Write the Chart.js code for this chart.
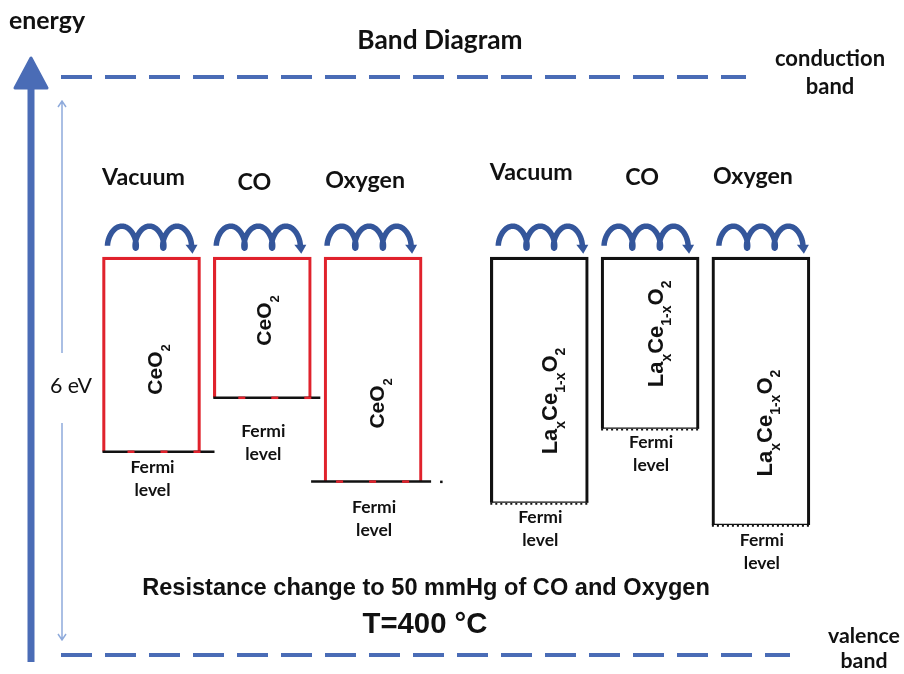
<!DOCTYPE html>
<html><head><meta charset="utf-8">
<script src="https://cdn.jsdelivr.net/npm/chart.js@4.4.1/dist/chart.umd.min.js"></script>
<style>html,body{margin:0;padding:0;background:#fff;} canvas{display:block;}</style>
</head><body>
<canvas id="c" width="904" height="674"></canvas>
<script>
// ---------------- data ----------------
const atmospheres = ['Vacuum', 'CO', 'Oxygen', 'Vacuum', 'CO', 'Oxygen'];
const ceo2Slots = [0, 1, 2];          // column slots (CeO2 group)
const laSlots = [3.5, 4.5, 5.5];      // column slots (LaxCe1-xO2 group)
const ceo2BandTop = [4.13, 4.13, 4.13];   // eV above valence band
const ceo2Fermi = [2.11, 2.67, 1.80];     // eV
const laBandTop = [4.13, 4.13, 4.13];
const laFermi = [1.58, 2.35, 1.35];
const conductionBand = 6;   // eV
const valenceBand = 0;      // eV
const gapLabel = '6 eV';
const ceo2Label = [['CeO', 0], ['2', 1]];
const laLabel = [['La', 0], ['x', 1], ['Ce', 0], ['1-x', 1], ['O', 0], ['2', 1]];
const titleText = 'Band Diagram';
const noteLine1 = 'Resistance change to 50 mmHg of CO and Oxygen';
const noteLine2 = 'T=400 \u00B0C';

// ---------------- styling / layout ----------------
const CAL = 'Lato, "Open Sans", sans-serif';
const ARIAL = '"Liberation Sans", Arial, sans-serif';
const BLUE = '#4a6cb6';
const COIL = '#34569b';
const RED = '#e0222c';
const colLabelY = [178, 183, 181, 173, 178, 177];
const colLabelDx = -8;
const fermiLabelDy = [16, 34, 26, 15, 14, 15];
const fermiExtL = [0, 0, 13, 0, 0, 0];
const fermiExtR = [14, 9, 9, 0, 0, 0];
const matLabelDx = [11, 8.5, 11, 18, 13, 11];
const matLabelDy = [15, -7, 34, 21, -9, 32];
const coilDx = [2, 0, 0, 5, 0, 4];

function fitSize(ctx, text, weight, family, width) {
  ctx.font = weight + ' 100px ' + family;
  return 100 * width / ctx.measureText(text).width;
}
function txt(ctx, s, x, y, font, align, base) {
  ctx.font = font; ctx.textAlign = align || 'center'; ctx.textBaseline = base || 'middle';
  ctx.fillStyle = '#111'; ctx.fillText(s, x, y);
}
function drawCoil(ctx, x0, yTop, w) {
  const r = 1, d = 1.3;
  const tc = Math.acos(r / d);
  const t0 = tc, t1 = 6 * Math.PI - tc;
  const fx = t => r * t - d * Math.sin(t), fy = t => r - d * Math.cos(t);
  const xa = fx(t0), xb = fx(t1), sx = w / (xb - xa), sy = 8.5;
  const px = t => x0 + (fx(t) - xa) * sx, py = t => yTop + ((r + d) - fy(t)) * sy;
  ctx.save();
  ctx.strokeStyle = COIL; ctx.fillStyle = COIL; ctx.lineWidth = 5.5; ctx.lineCap = 'butt'; ctx.lineJoin = 'round';
  ctx.beginPath();
  for (let k = 0; k <= 240; k++) {
    const t = t0 + (t1 - t0) * k / 240;
    if (k) ctx.lineTo(px(t), py(t)); else ctx.moveTo(px(t), py(t));
  }
  ctx.stroke();
  const ex = px(t1), ey = py(t1);
  ctx.beginPath(); ctx.moveTo(ex - 6, ey - 1); ctx.lineTo(ex + 6, ey - 1); ctx.lineTo(ex + 1, ey + 8); ctx.closePath(); ctx.fill();
  ctx.restore();
}
function drawFormula(ctx, segs, cx, cy, main, sub, subOff) {
  ctx.save();
  ctx.translate(cx, cy); ctx.rotate(-Math.PI / 2);
  let total = 0;
  segs.forEach(([s, isSub]) => { ctx.font = 'bold ' + (isSub ? sub : main) + 'px ' + ARIAL; total += ctx.measureText(s).width; });
  let u = -total / 2;
  ctx.fillStyle = '#111'; ctx.textAlign = 'left'; ctx.textBaseline = 'alphabetic';
  segs.forEach(([s, isSub]) => {
    ctx.font = 'bold ' + (isSub ? sub : main) + 'px ' + ARIAL;
    ctx.fillText(s, u, isSub ? subOff : 0);
    u += ctx.measureText(s).width;
  });
  ctx.restore();
}

const diagramPlugin = {
  id: 'diagram',
  beforeDraw(chart) {
    const ctx = chart.ctx; ctx.save(); ctx.fillStyle = '#fff'; ctx.fillRect(0, 0, chart.width, chart.height); ctx.restore();
  },
  afterDatasetsDraw(chart) {
    const ctx = chart.ctx, ys = chart.scales.y;
    const yC = ys.getPixelForValue(conductionBand), yV = ys.getPixelForValue(valenceBand);
    ctx.save();
    // band edges (dashed)
    ctx.strokeStyle = BLUE; ctx.lineWidth = 4; ctx.setLineDash([31, 13]);
    ctx.beginPath(); ctx.moveTo(61, yC); ctx.lineTo(746, yC); ctx.stroke();
    ctx.beginPath(); ctx.moveTo(61, yV); ctx.lineTo(790, yV); ctx.stroke();
    ctx.setLineDash([]);
    // energy axis arrow
    ctx.strokeStyle = BLUE; ctx.fillStyle = BLUE; ctx.lineWidth = 7;
    ctx.beginPath(); ctx.moveTo(31, yV + 7); ctx.lineTo(31, 84); ctx.stroke();
    ctx.lineWidth = 3; ctx.lineJoin = 'round';
    ctx.beginPath(); ctx.moveTo(31, 58); ctx.lineTo(15, 88); ctx.lineTo(47, 88); ctx.closePath(); ctx.fill(); ctx.stroke();
    // 6 eV thin arrow
    const gx = 62, gTop = yC + 24, gBot = yV - 15;
    ctx.strokeStyle = '#8eaadb'; ctx.lineWidth = 1.5; ctx.lineJoin = 'miter';
    ctx.beginPath(); ctx.moveTo(gx, gTop); ctx.lineTo(gx, 353); ctx.moveTo(gx, 423); ctx.lineTo(gx, gBot);
    ctx.moveTo(gx - 4, gTop + 6); ctx.lineTo(gx, gTop); ctx.lineTo(gx + 4, gTop + 6);
    ctx.moveTo(gx - 4, gBot - 6); ctx.lineTo(gx, gBot); ctx.lineTo(gx + 4, gBot - 6);
    ctx.stroke();
    ctx.restore();

    // per-box extras
    let idx = 0;
    [0, 1].forEach(di => {
      const meta = chart.getDatasetMeta(di);
      meta.data.forEach(el => {
        const p = el.getProps(['x', 'y', 'base', 'width'], true);
        const left = p.x - p.width / 2, right = p.x + p.width / 2;
        // Fermi level line
        ctx.save();
        const l0 = left - fermiExtL[idx], l1 = right + fermiExtR[idx];
        if (di === 0) {
          ctx.strokeStyle = '#111'; ctx.lineWidth = 2.5;
          ctx.beginPath(); ctx.moveTo(l0, p.base); ctx.lineTo(l1, p.base); ctx.stroke();
          ctx.strokeStyle = RED;
          for (let x = l0 + 25; x < right - 3; x += 33) {
            ctx.beginPath(); ctx.moveTo(x, p.base); ctx.lineTo(x + 7, p.base); ctx.stroke();
          }
          if (idx === 2) { ctx.fillStyle = '#111'; ctx.fillRect(l1 + 9, p.base - 1, 2.5, 2.5); }
        } else {
          ctx.strokeStyle = '#111'; ctx.lineWidth = 1.3;
          ctx.beginPath(); ctx.moveTo(l0, p.base - 0.6); ctx.lineTo(l1, p.base - 0.6); ctx.stroke();
          ctx.lineWidth = 1.8; ctx.setLineDash([2, 3]);
          ctx.beginPath(); ctx.moveTo(l0, p.base + 1); ctx.lineTo(l1, p.base + 1); ctx.stroke();
        }
        ctx.restore();
        // coil arrows
        drawCoil(ctx, left + 3 + coilDx[idx], p.y - 31, 84);
        // labels
        const colSize = fitSize(ctx, 'Oxygen', 'bold', CAL, 80);
        txt(ctx, atmospheres[idx], p.x + colLabelDx, colLabelY[idx], 'bold ' + colSize.toFixed(1) + 'px ' + CAL);
        const fSize = fitSize(ctx, 'Fermi', 'bold', CAL, 44);
        const ff = 'bold ' + fSize.toFixed(1) + 'px ' + CAL;
        const fy = p.base + fermiLabelDy[idx];
        txt(ctx, 'Fermi', p.x + 1, fy, ff);
        txt(ctx, 'level', p.x + 1, fy + 23, ff);
        const midY = (p.y + p.base) / 2 + matLabelDy[idx];
        if (di === 0) drawFormula(ctx, ceo2Label, p.x + matLabelDx[idx], midY, 21, 13, 8);
        else drawFormula(ctx, laLabel, p.x + matLabelDx[idx], midY, 22, 14, 8);
        idx++;
      });
    });

    // texts
    let s;
    s = fitSize(ctx, 'energy', 'bold', CAL, 76); txt(ctx, 'energy', 9, 29, 'bold ' + s.toFixed(1) + 'px ' + CAL, 'left', 'alphabetic');
    s = fitSize(ctx, titleText, 'bold', CAL, 165); txt(ctx, titleText, 440, 49, 'bold ' + s.toFixed(1) + 'px ' + CAL, 'center', 'alphabetic');
    s = fitSize(ctx, 'conduction', 'bold', CAL, 110);
    txt(ctx, 'conduction', 830, 66, 'bold ' + s.toFixed(1) + 'px ' + CAL, 'center', 'alphabetic');
    txt(ctx, 'band', 830, 94, 'bold ' + s.toFixed(1) + 'px ' + CAL, 'center', 'alphabetic');
    s = fitSize(ctx, 'valence', 'bold', CAL, 72);
    txt(ctx, 'valence', 864, 643, 'bold ' + s.toFixed(1) + 'px ' + CAL, 'center', 'alphabetic');
    txt(ctx, 'band', 864, 668, 'bold ' + s.toFixed(1) + 'px ' + CAL, 'center', 'alphabetic');
    s = fitSize(ctx, gapLabel, 'normal', CAL, 42); txt(ctx, gapLabel, 71, 386, 'normal ' + s.toFixed(1) + 'px ' + CAL);
    s = fitSize(ctx, noteLine1, 'bold', ARIAL, 567); txt(ctx, noteLine1, 426, 588, 'bold ' + s.toFixed(1) + 'px ' + ARIAL);
    s = fitSize(ctx, noteLine2, 'bold', ARIAL, 125); txt(ctx, noteLine2, 425, 625, 'bold ' + s.toFixed(1) + 'px ' + ARIAL);
  }
};

const mkData = (slots, lo, hi) => slots.map((s, i) => ({ x: s, y: [lo[i], hi[i]] }));
new Chart(document.getElementById('c'), {
  type: 'bar',
  data: {
    datasets: [
      { label: 'CeO2', data: mkData(ceo2Slots, ceo2Fermi, ceo2BandTop), backgroundColor: 'rgba(255,255,255,0)',
        borderColor: RED, borderWidth: 2.5, borderSkipped: 'bottom', grouped: false, barThickness: 98 },
      { label: 'LaxCe1-xO2', data: mkData(laSlots, laFermi, laBandTop), backgroundColor: 'rgba(255,255,255,0)',
        borderColor: '#111', borderWidth: 2.5, borderSkipped: 'bottom', grouped: false, barThickness: 98 }
    ]
  },
  options: {
    responsive: false, animation: false, devicePixelRatio: 1,
    layout: { padding: 0 },
    plugins: { legend: { display: false }, tooltip: { enabled: false }, title: { display: false } },
    scales: {
      x: { type: 'linear', min: -1.3673, max: 6.7915, display: false, offset: false },
      y: { type: 'linear', min: -0.1972, max: 6.7996, display: false }
    }
  },
  plugins: [diagramPlugin]
});
</script>
</body></html>
